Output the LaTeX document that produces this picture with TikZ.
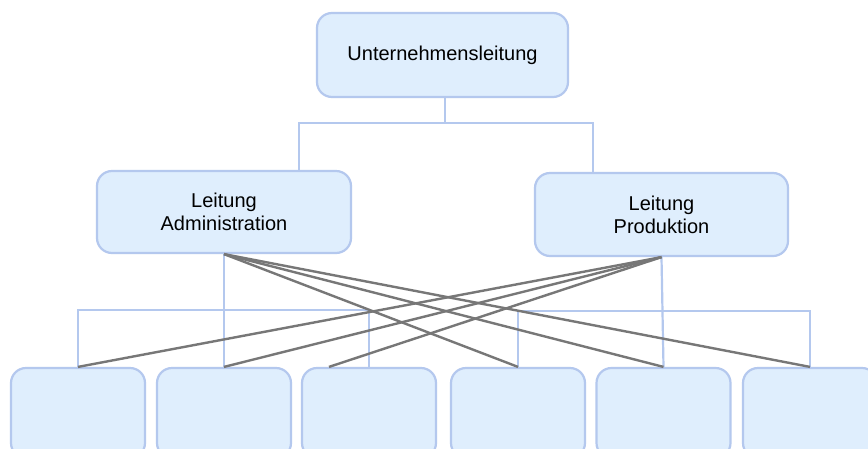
\documentclass[tikz,border=0pt]{standalone}
\usepackage{fontspec}
\setmainfont{Liberation Sans}
\definecolor{boxfill}{HTML}{DFEEFD}
\definecolor{boxline}{HTML}{B4C8EE}
\definecolor{crossline}{HTML}{777777}
\begin{document}
\begin{tikzpicture}[x=1pt,y=-1pt,
  orgbox/.style={draw=boxline,fill=boxfill,line width=2.2pt,rounded corners=15pt,
    inner sep=0pt,align=center,font=\fontsize{20}{23}\selectfont},
  conn/.style={draw=boxline,line width=2.2pt},
  cross/.style={draw=crossline,line width=2.4pt}]
\useasboundingbox (0,0) rectangle (868,448);
\clip (0,0) rectangle (868,448);
\fill[white] (0,0) rectangle (868,448);
% nodes
\node[orgbox,minimum width=251pt,minimum height=84pt] (top) at (442.5,55) {Unternehmensleitung};
\node[orgbox,minimum width=254pt,minimum height=82pt] (lm) at (224,212) {Leitung\\Administration};
\node[orgbox,minimum width=253pt,minimum height=83pt] (rm) at (661.5,214.5) {Leitung\\Produktion};
\foreach \n/\cx in {b1/78,b2/224,b3/369,b4/518,b5/663.5,b6/810}
  \node[orgbox,minimum width=134pt,minimum height=90pt] (\n) at (\cx,413) {};
% tree connectors
\coordinate (j1) at (445,123);
\draw[conn] ([xshift=2.5pt]top.south) -- (j1);
\draw[conn] ([xshift=75pt]lm.north) |- (j1) -| ([xshift=-68.5pt]rm.north);
\draw[conn] (b1.north) -- ++(0,-57) -| (b3.north);
\draw[conn] (lm.south) -- (b2.north);
\draw[conn] (b4.north) -- ++(0,-56) -| (b6.north);
\draw[conn] (rm.south) -- (b5.north);
% cross lines
\draw[cross] (lm.south) -- (b4.north);
\draw[cross] (lm.south) -- (b5.north);
\draw[cross] (lm.south) -- (b6.north);
\draw[cross] (rm.south) -- (b1.north);
\draw[cross] (rm.south) -- (b2.north);
\draw[cross] (rm.south) -- ([xshift=-40pt]b3.north);
\end{tikzpicture}
\end{document}
